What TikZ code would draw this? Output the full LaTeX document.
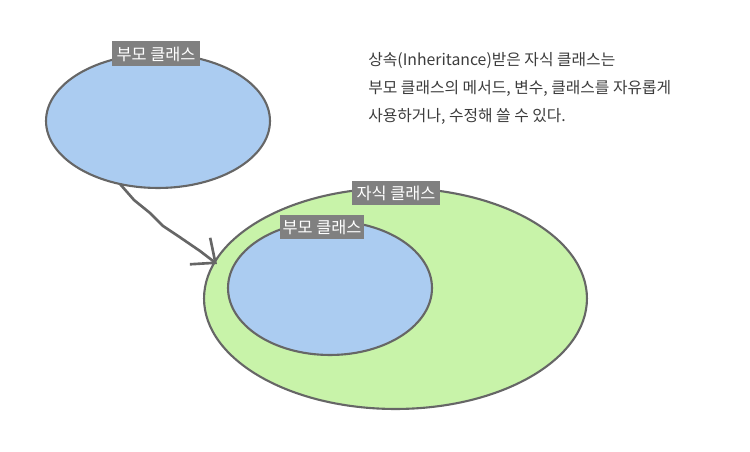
\documentclass[tikz,border=0pt]{standalone}
\usepackage{fontspec}
\setmainfont{Noto Sans CJK KR}
\usetikzlibrary{shapes.geometric,arrows.meta,positioning}
\definecolor{parentblue}{RGB}{171,204,241}
\definecolor{childgreen}{RGB}{200,243,169}
\definecolor{edgegray}{RGB}{102,102,102}
\definecolor{tagfill}{RGB}{128,128,128}
\definecolor{notegray}{RGB}{60,60,60}
\tikzset{
  classblob/.style={draw=edgegray, line width=1.2pt, ellipse, inner sep=0pt},
  classtag/.style={fill=tagfill, text=white, inner sep=1.5pt, minimum height=0.5cm,
                   font=\fontsize{9.3}{10}\selectfont}
}

\begin{document}
\begin{tikzpicture}[x=0.02cm, y=-0.02cm]
  \useasboundingbox (0,0) rectangle (750,452);

  % parent class alone
  \node[classblob, fill=parentblue, minimum width=4.48cm, minimum height=2.68cm] (parent) at (158,121) {};
  \node[classtag, minimum width=1.78cm] (parenttag) at (156,54) {부모 클래스};

  % child class containing parent
  \node[classblob, fill=childgreen, minimum width=7.66cm, minimum height=4.42cm] (child) at (395.5,298.5) {};
  \node[classblob, fill=parentblue, minimum width=4.08cm, minimum height=2.68cm] (inner) at (330,288) {};
  \node[classtag, minimum width=1.76cm] (childtag) at (396,193) {자식 클래스};
  \node[classtag, minimum width=1.68cm] (innertag) at (322,227) {부모 클래스};

  % hand drawn arrow
  \coordinate (arrowstart) at (120,184);
  \coordinate (arrowend) at (217,264);
  \draw[edgegray, line width=1.5pt, line join=round, line cap=round,
        -{Straight Barb[length=11pt, width=19pt, line width=1.5pt]}]
    (arrowstart) -- (134,200) -- (150,213) -- (163,226) -- (181,238) -- (200,251) -- (arrowend);

  \node[anchor=north west, align=left, text=notegray, inner sep=0pt,
        font=\fontsize{9}{15.9}\selectfont] (note) at (368,52)
       {상속(Inheritance)받은 자식 클래스는\\
        부모 클래스의 메서드, 변수, 클래스를 자유롭게\\
        사용하거나, 수정해 쓸 수 있다.};
\end{tikzpicture}
\end{document}
